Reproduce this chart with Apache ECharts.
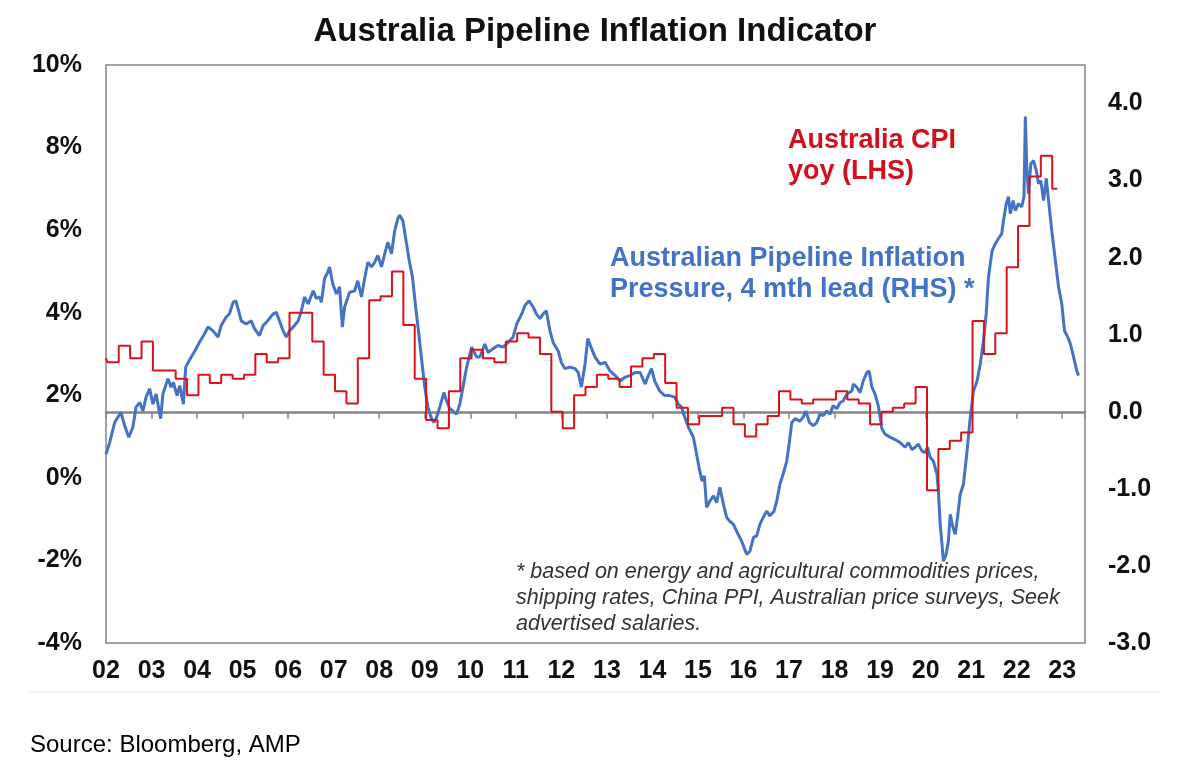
<!DOCTYPE html>
<html>
<head>
<meta charset="utf-8">
<title>Australia Pipeline Inflation Indicator</title>
<script src="https://cdn.jsdelivr.net/npm/echarts@6.0.0/dist/echarts.min.js"></script>
<style>
  html, body { margin: 0; padding: 0; background: #fff; }
  #chart { width: 1190px; height: 778px; }
</style>
</head>
<body>
<div id="chart"></div>
<script>
// x axis runs in decimal years, labelled '02' .. '23'
const X_MIN = 2002
const X_MAX = 2023.5

// Australia CPI yoy (LHS), one value per quarterly step as drawn.
// first value is the short stub at the left edge, the rest start every quarter from 2002
const cpiSteps = [
  2.9,
  2.8, 3.2, 2.9, 3.3,   // 02
  2.6, 2.6, 2.4, 2.0,   // 03
  2.5, 2.3, 2.5, 2.4,   // 04
  2.5, 3.0, 2.8, 2.9,   // 05
  4.0, 4.0, 3.3, 2.5,   // 06
  2.1, 1.8, 2.9, 4.3,   // 07
  4.4, 5.0, 3.7, 2.4,   // 08
  1.4, 1.2, 2.1, 2.9,   // 09
  3.1, 2.9, 2.8, 3.3,   // 10
  3.5, 3.4, 3.0, 1.6,   // 11
  1.2, 2.0, 2.2, 2.5,   // 12
  2.4, 2.2, 2.7, 2.9,   // 13
  3.0, 2.3, 1.7, 1.3,   // 14
  1.5, 1.5, 1.7, 1.3,   // 15
  1.0, 1.3, 1.5, 2.1,   // 16
  1.9, 1.8, 1.9, 1.9,   // 17
  2.1, 1.9, 1.8, 1.3,   // 18
  1.6, 1.7, 1.8, 2.2,   // 19
  -0.3, 0.7, 0.9, 1.1,  // 20
  3.8, 3.0, 3.5, 5.1,   // 21
  6.1, 7.3, 7.8, 7.0    // 22
]
const CPI_STEP_OFFSET = 0.03 // steps sit a little after the quarter boundary
const CPI_END = 2022.89      // last value runs until here

// Australian Pipeline Inflation Pressure, 4 mth lead (RHS): [year, value]
const pipeline = [
  [2002.00, -0.55], [2002.08, -0.40], [2002.19, -0.14], [2002.26, -0.07], [2002.33, -0.01], [2002.41, -0.18],
  [2002.50, -0.33], [2002.59, -0.20], [2002.66, 0.06], [2002.74, 0.12], [2002.81, 0.01], [2002.88, 0.19], [2002.96, 0.30],
  [2003.03, 0.10], [2003.10, 0.23], [2003.20, -0.09], [2003.25, 0.23], [2003.36, 0.43], [2003.43, 0.32], [2003.48, 0.38],
  [2003.56, 0.21], [2003.62, 0.34], [2003.70, 0.10], [2003.75, 0.58], [2003.84, 0.68], [2003.95, 0.79],
  [2004.05, 0.90], [2004.16, 1.01], [2004.24, 1.10], [2004.35, 1.05], [2004.46, 0.97], [2004.53, 1.12], [2004.64, 1.23],
  [2004.71, 1.27], [2004.79, 1.42], [2004.85, 1.44], [2004.90, 1.34], [2004.97, 1.18],
  [2005.08, 1.14], [2005.19, 1.18], [2005.26, 1.08], [2005.37, 0.99], [2005.45, 1.12], [2005.52, 1.16], [2005.59, 1.21],
  [2005.67, 1.27], [2005.74, 1.29], [2005.81, 1.18], [2005.89, 1.05], [2005.96, 0.97],
  [2006.03, 1.05], [2006.14, 1.12], [2006.22, 1.18], [2006.29, 1.31], [2006.36, 1.49], [2006.44, 1.40], [2006.55, 1.57],
  [2006.62, 1.47], [2006.69, 1.49], [2006.73, 1.42], [2006.80, 1.73], [2006.87, 1.81], [2006.91, 1.88], [2006.98, 1.66],
  [2007.06, 1.53], [2007.13, 1.62], [2007.19, 1.10], [2007.24, 1.36], [2007.35, 1.55], [2007.46, 1.57], [2007.53, 1.70],
  [2007.61, 1.49], [2007.68, 1.73], [2007.75, 1.94], [2007.83, 1.88], [2007.90, 1.94], [2007.97, 2.03],
  [2008.05, 1.88], [2008.12, 2.05], [2008.19, 2.20], [2008.27, 2.05], [2008.34, 2.35], [2008.41, 2.51], [2008.45, 2.55],
  [2008.52, 2.48], [2008.60, 2.18], [2008.66, 1.96], [2008.73, 1.75], [2008.80, 1.36], [2008.87, 1.01], [2008.95, 0.58],
  [2009.00, 0.32], [2009.07, 0.06], [2009.15, -0.09], [2009.20, -0.14], [2009.26, -0.07], [2009.33, 0.06], [2009.42, 0.25],
  [2009.48, 0.14], [2009.55, 0.04], [2009.62, 0.01], [2009.70, -0.03], [2009.77, 0.10], [2009.84, 0.32], [2009.92, 0.58],
  [2010.03, 0.84], [2010.14, 0.71], [2010.21, 0.71], [2010.32, 0.88], [2010.39, 0.77], [2010.50, 0.82], [2010.61, 0.86],
  [2010.72, 0.84], [2010.83, 0.90], [2010.94, 0.97],
  [2011.02, 1.14], [2011.13, 1.27], [2011.20, 1.38], [2011.29, 1.44], [2011.38, 1.36], [2011.45, 1.27], [2011.53, 1.21],
  [2011.60, 1.27], [2011.67, 1.31], [2011.75, 1.05], [2011.82, 0.90], [2011.93, 0.79],
  [2012.00, 0.64], [2012.08, 0.56], [2012.19, 0.58], [2012.30, 0.56], [2012.37, 0.51], [2012.44, 0.32], [2012.52, 0.62],
  [2012.58, 0.95], [2012.65, 0.84], [2012.74, 0.71], [2012.85, 0.62], [2012.96, 0.64],
  [2013.07, 0.53], [2013.18, 0.47], [2013.29, 0.40], [2013.40, 0.45], [2013.51, 0.47], [2013.62, 0.51], [2013.73, 0.51],
  [2013.84, 0.36], [2013.91, 0.47], [2013.98, 0.56],
  [2014.05, 0.40], [2014.16, 0.27], [2014.27, 0.21], [2014.38, 0.21], [2014.49, 0.19], [2014.57, 0.10], [2014.64, 0.06],
  [2014.71, -0.07], [2014.79, -0.20], [2014.90, -0.33], [2014.97, -0.55],
  [2015.04, -0.77], [2015.09, -0.90], [2015.14, -0.83], [2015.19, -1.24], [2015.26, -1.16], [2015.34, -1.09], [2015.41, -1.18],
  [2015.48, -0.98], [2015.56, -1.20], [2015.63, -1.37], [2015.70, -1.42], [2015.78, -1.46], [2015.85, -1.55], [2015.96, -1.68],
  [2016.07, -1.85], [2016.14, -1.81], [2016.22, -1.63], [2016.29, -1.61], [2016.36, -1.46], [2016.45, -1.35], [2016.51, -1.29],
  [2016.58, -1.35], [2016.67, -1.29], [2016.73, -1.16], [2016.80, -0.94], [2016.87, -0.81], [2016.95, -0.64],
  [2017.01, -0.38], [2017.06, -0.14], [2017.13, -0.09], [2017.24, -0.12], [2017.31, -0.07], [2017.37, 0.01], [2017.45, -0.14],
  [2017.53, -0.18], [2017.61, -0.14], [2017.68, -0.03], [2017.75, -0.05], [2017.83, 0.01], [2017.90, -0.03], [2017.97, 0.08],
  [2018.05, 0.04], [2018.12, 0.12], [2018.19, 0.14], [2018.27, 0.23], [2018.38, 0.27], [2018.41, 0.36], [2018.49, 0.32],
  [2018.56, 0.25], [2018.63, 0.40], [2018.71, 0.51], [2018.76, 0.53], [2018.82, 0.32], [2018.89, 0.23], [2018.96, 0.08],
  [2019.04, -0.22], [2019.11, -0.29], [2019.22, -0.33], [2019.33, -0.36], [2019.44, -0.40], [2019.55, -0.46], [2019.62, -0.40],
  [2019.70, -0.49], [2019.77, -0.46], [2019.84, -0.42], [2019.92, -0.51], [2019.99, -0.53],
  [2020.04, -0.46], [2020.10, -0.59], [2020.17, -0.64], [2020.25, -0.81], [2020.28, -1.03], [2020.32, -1.46], [2020.36, -1.72],
  [2020.39, -1.94], [2020.45, -1.85], [2020.50, -1.68], [2020.54, -1.33], [2020.60, -1.50], [2020.65, -1.59], [2020.70, -1.37],
  [2020.76, -1.07], [2020.83, -0.94], [2020.91, -0.51], [2020.98, -0.07],
  [2021.05, 0.27], [2021.13, 0.40], [2021.20, 0.62], [2021.27, 0.92], [2021.33, 1.27], [2021.38, 1.75], [2021.46, 2.09],
  [2021.53, 2.18], [2021.60, 2.25], [2021.67, 2.31], [2021.71, 2.48], [2021.77, 2.70], [2021.82, 2.79], [2021.86, 2.57],
  [2021.92, 2.74], [2021.97, 2.61],
  [2022.04, 2.70], [2022.11, 2.66], [2022.16, 2.79], [2022.19, 3.83], [2022.22, 3.18], [2022.26, 2.83], [2022.31, 3.22],
  [2022.37, 3.26], [2022.43, 3.13], [2022.48, 2.96], [2022.53, 3.00], [2022.59, 2.74], [2022.65, 3.03], [2022.70, 2.74],
  [2022.77, 2.35], [2022.85, 1.96], [2022.92, 1.62], [2022.99, 1.40],
  [2023.05, 1.05], [2023.12, 0.97], [2023.18, 0.88], [2023.25, 0.71], [2023.32, 0.53], [2023.36, 0.47]
]

const RED = '#d9121c'
const BLUE = '#4472c4'
const GREY = '#858585'
const FONT = '"Liberation Sans", Arial, Helvetica, sans-serif'

// quarterly steps -> [year, value] points
let cpiData = cpiSteps.map((v, i) => [i === 0 ? X_MIN : X_MIN + CPI_STEP_OFFSET + 0.25 * (i - 1), v])
cpiData.push([CPI_END, cpiSteps[cpiSteps.length - 1]])

let yearLabel = (v) => Number.isInteger(v) ? String(v).slice(2) : ''

let chart = echarts.init(document.getElementById('chart'))

let option = {
  animation: false,
  backgroundColor: '#fff',
  title: {
    text: 'Australia Pipeline Inflation Indicator',
    left: 'center',
    top: 10,
    textStyle: { fontFamily: FONT, fontSize: 33, fontWeight: 'bold', color: '#111' }
  },
  grid: {
    left: 106,
    right: 105,
    top: 65,
    bottom: 135,
    show: true,
    borderColor: GREY,
    borderWidth: 1.5,
    backgroundColor: 'transparent'
  },
  xAxis: [
    { // labels along the bottom
      type: 'value',
      min: X_MIN,
      max: X_MAX,
      interval: 1,
      position: 'bottom',
      axisLine: { show: false, onZero: false },
      axisTick: { show: false },
      splitLine: { show: false },
      axisLabel: {
        formatter: yearLabel,
        margin: 16,
        fontFamily: FONT,
        fontSize: 25,
        fontWeight: 'bold',
        color: '#111'
      }
    },
    { // grey line at RHS zero with year ticks hanging below it
      type: 'value',
      min: X_MIN,
      max: X_MAX,
      interval: 1,
      position: 'bottom',
      axisLine: { show: true, onZero: true, onZeroAxisIndex: 1, lineStyle: { color: GREY, width: 2.5 } },
      axisTick: { show: true, inside: false, length: 7, lineStyle: { color: GREY, width: 1.5 } },
      axisLabel: { show: false },
      splitLine: { show: false }
    }
  ],
  yAxis: [
    {
      type: 'value',
      min: -4,
      max: 10,
      interval: 2,
      position: 'left',
      axisLine: { show: false },
      axisTick: { show: false },
      splitLine: { show: false },
      axisLabel: {
        formatter: '{value}%',
        margin: 24,
        fontFamily: FONT,
        fontSize: 25,
        fontWeight: 'bold',
        color: '#111'
      }
    },
    {
      type: 'value',
      min: -3,
      max: 4.5,
      interval: 1,
      position: 'right',
      axisLine: { show: false },
      axisTick: { show: false },
      splitLine: { show: false },
      axisLabel: {
        formatter: (v) => Number.isInteger(v) ? v.toFixed(1) : '',
        margin: 23,
        fontFamily: FONT,
        fontSize: 25,
        fontWeight: 'bold',
        color: '#111'
      }
    }
  ],
  series: [
    {
      name: 'Australian Pipeline Inflation Pressure, 4 mth lead (RHS)',
      type: 'line',
      xAxisIndex: 0,
      yAxisIndex: 1,
      showSymbol: false,
      lineStyle: { color: BLUE, width: 3 },
      data: pipeline,
      z: 3
    },
    {
      name: 'Australia CPI yoy (LHS)',
      type: 'line',
      xAxisIndex: 0,
      yAxisIndex: 0,
      step: 'end',
      showSymbol: false,
      lineStyle: { color: RED, width: 2 },
      data: cpiData,
      z: 4
    }
  ],
  graphic: [
    {
      type: 'text',
      left: 788,
      top: 125,
      style: {
        text: 'Australia CPI\nyoy (LHS)',
        font: 'bold 27px ' + FONT,
        fill: '#d0101c',
        lineHeight: 31
      }
    },
    {
      type: 'text',
      left: 610,
      top: 243,
      style: {
        text: 'Australian Pipeline Inflation\nPressure, 4 mth lead (RHS) *',
        font: 'bold 27px ' + FONT,
        fill: BLUE,
        lineHeight: 31
      }
    },
    {
      type: 'text',
      left: 516,
      top: 559,
      style: {
        text: '* based on energy and agricultural commodities prices,\nshipping rates, China PPI, Australian price surveys, Seek\nadvertised salaries.',
        font: 'italic 21.5px ' + FONT,
        fill: '#333',
        lineHeight: 26
      }
    },
    {
      type: 'line',
      shape: { x1: 30, y1: 692, x2: 1160, y2: 692 },
      style: { stroke: '#ececec', lineWidth: 1.5 }
    },
    {
      type: 'text',
      left: 30,
      top: 731,
      style: {
        text: 'Source: Bloomberg, AMP',
        font: '24px ' + FONT,
        fill: '#000',
        lineHeight: 28
      }
    }
  ]
}

chart.setOption(option)
</script>
</body>
</html>
